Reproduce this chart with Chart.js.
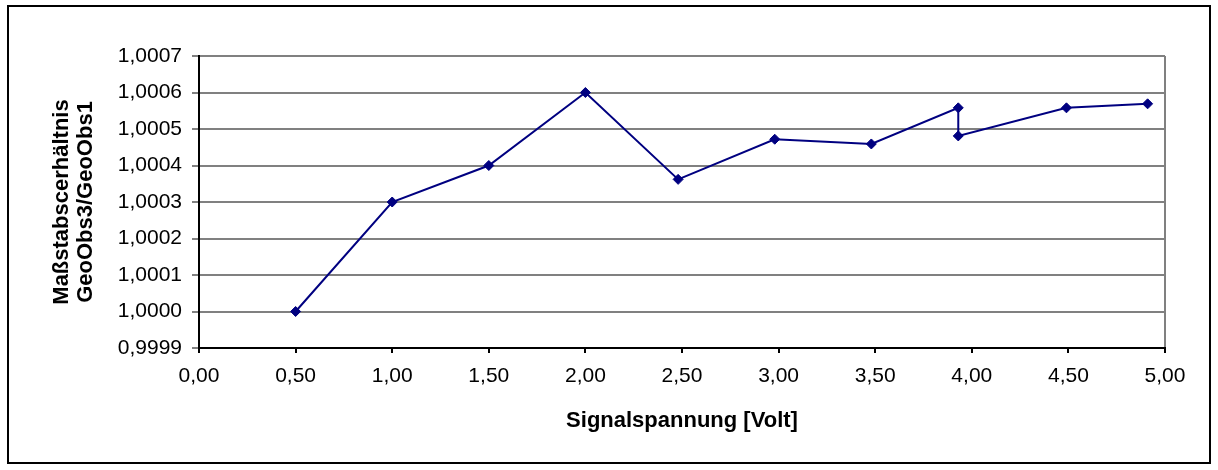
<!DOCTYPE html>
<html>
<head>
<meta charset="utf-8">
<script src="https://cdn.jsdelivr.net/npm/chart.js@4"></script>
<style>
  body { margin: 0; background: #fff; }
  canvas { display: block; }
</style>
</head>
<body>
<canvas id="chart" width="1218" height="470"></canvas>
<script>
// Signalspannung [Volt] vs. Maßstabsverhältnis
const voltage = [0.5, 1.0, 1.5, 2.0, 2.48, 2.98, 3.48, 3.93, 3.93, 4.49, 4.91];
const ratio = [1.0000, 1.0003, 1.0004, 1.0006, 1.000362, 1.000472, 1.000459, 1.000558, 1.000481, 1.000558, 1.000569];

const xTicks = [0, 0.5, 1, 1.5, 2, 2.5, 3, 3.5, 4, 4.5, 5];
const yTicks = [0.9999, 1.0000, 1.0001, 1.0002, 1.0003, 1.0004, 1.0005, 1.0006, 1.0007];

const FONT = "Arial, 'Liberation Sans', sans-serif";

// white page + black frame round the whole chart
const framePlugin = {
  id: "frame",
  beforeDraw(chart) {
    const c = chart.ctx;
    c.save();
    c.fillStyle = "#fff";
    c.fillRect(0, 0, chart.width, chart.height);
    c.strokeStyle = "#000";
    c.lineWidth = 2;
    c.strokeRect(8, 6, 1202, 457);
    c.restore();
  }
};

new Chart(document.getElementById("chart"), {
  type: "line",
  data: {
    datasets: [{
      data: voltage.map((v, i) => ({ x: v, y: ratio[i] })),
      borderColor: "#000080",
      backgroundColor: "#000080",
      borderWidth: 2,
      pointStyle: "rectRot",
      pointRadius: 5,
      pointBorderWidth: 1,
      tension: 0
    }]
  },
  options: {
    responsive: false,
    devicePixelRatio: 1,
    animation: false,
    layout: { padding: { top: 56, right: 53, bottom: 0, left: 0 } },
    plugins: {
      legend: { display: false },
      tooltip: { enabled: false }
    },
    scales: {
      x: {
        type: "linear",
        min: 0,
        max: 5,
        afterBuildTicks: s => { s.ticks = xTicks.map(v => ({ value: v })); },
        afterFit: s => { s.height = 122; },
        ticks: {
          color: "#000",
          padding: 11,
          maxRotation: 0,
          font: { family: FONT, size: 21 },
          callback: v => v.toFixed(2).replace(".", ",")
        },
        grid: {
          color: ctx => (ctx.tick && ctx.tick.value === 5 ? "#808080" : "rgba(0,0,0,0)"),
          tickColor: "#000",
          tickLength: 5,
          lineWidth: 2
        },
        border: { color: "#000", width: 2 },
        title: {
          display: true,
          text: "Signalspannung [Volt]",
          color: "#000",
          font: { family: FONT, size: 22, weight: "bold", lineHeight: 1.2 },
          padding: { top: 0, bottom: 36 }
        }
      },
      y: {
        min: 0.9999,
        max: 1.0007,
        afterBuildTicks: s => { s.ticks = yTicks.map(v => ({ value: v })); },
        afterFit: s => { s.width = 199; },
        ticks: {
          color: "#000",
          padding: 10,
          font: { family: FONT, size: 21 },
          callback: v => v.toFixed(4).replace(".", ",")
        },
        grid: {
          color: "#808080",
          tickColor: "#808080",
          tickLength: 7,
          lineWidth: 2
        },
        border: { color: "#000", width: 2 },
        title: {
          display: true,
          text: ["Maßstabscerhältnis", "GeoObs3/GeoObs1"],
          color: "#000",
          font: { family: FONT, size: 22, weight: "bold", lineHeight: 1.1 },
          padding: { top: 50, bottom: 0 }
        }
      }
    }
  },
  plugins: [framePlugin]
});
</script>
</body>
</html>
